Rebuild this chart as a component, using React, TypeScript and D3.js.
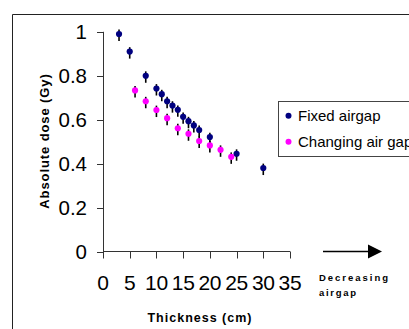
import React from "react";
import * as d3 from "d3";

const fixedX = [3, 5, 8, 10, 11, 12, 13, 14, 15, 16, 17, 18, 20, 25, 30];
const fixedY = [0.99, 0.91, 0.80, 0.742, 0.716, 0.684, 0.664, 0.645, 0.613, 0.593, 0.574, 0.553, 0.521, 0.445, 0.38];
const changeX = [6, 8, 10, 12, 14, 16, 18, 20, 22, 24];
const changeY = [0.733, 0.684, 0.644, 0.607, 0.561, 0.536, 0.503, 0.483, 0.463, 0.431];
const errUp = 0.02;
const errDown = 0.032;
const xTicks = [0, 5, 10, 15, 20, 25, 30, 35];
const yTicks = [0, 0.2, 0.4, 0.6, 0.8, 1];
const seriesNames = ["Fixed airgap", "Changing air gap"];
const seriesColors = ["#000080", "#FF00FF"];

const W = 409;
const H = 329;

export default function App() {
  const x = d3.scaleLinear().domain([0, 35]).range([103, 290]);
  const y = d3.scaleLinear().domain([0, 1]).range([251.5, 31.8]);
  const font = "'Liberation Sans', Arial, sans-serif";
  const series = [
    { xs: fixedX, ys: fixedY, color: seriesColors[0] },
    { xs: changeX, ys: changeY, color: seriesColors[1] },
  ];
  return (
    <svg
      width={W}
      height={H}
      style={{ position: "fixed", left: 0, top: 0, background: "#fff" }}
      fontFamily={font}
    >
      <rect x={0} y={0} width={W} height={H} fill="#fff" />
      {/* outer frame */}
      <line x1={12.5} y1={14.5} x2={W} y2={14.5} stroke="#222" strokeWidth={1} />
      <line x1={12.5} y1={14.5} x2={12.5} y2={H} stroke="#222" strokeWidth={1} />

      {/* y axis */}
      <line x1={103.5} x2={103.5} y1={y(1)} y2={y(0)} stroke="#333" />
      {yTicks.map((t) => (
        <g key={"y" + t}>
          <line x1={97} x2={103.5} y1={Math.round(y(t)) + 0.5} y2={Math.round(y(t)) + 0.5} stroke="#333" />
          <text x={87} y={y(t)} dy="0.36em" textAnchor="end" fontSize={20.5} fill="#000">
            {d3.format("~g")(t)}
          </text>
        </g>
      ))}
      {/* x axis */}
      <line x1={x(0)} x2={x(35)} y1={251.5} y2={251.5} stroke="#333" />
      {xTicks.map((t) => (
        <g key={"x" + t}>
          <line x1={Math.round(x(t)) + 0.5} x2={Math.round(x(t)) + 0.5} y1={251.5} y2={258.5} stroke="#333" />
          <text x={x(t)} y={290} textAnchor="middle" fontSize={21} letterSpacing={-0.3} fill="#000">
            {t}
          </text>
        </g>
      ))}

      {/* data */}
      {series.map((s, si) => (
        <g key={"s" + si}>
          {s.xs.map((xv, i) => (
            <line
              key={"e" + i}
              x1={x(xv)}
              x2={x(xv)}
              y1={y(s.ys[i] + errUp)}
              y2={y(s.ys[i] - errDown)}
              stroke="#000"
              strokeWidth={1.6}
            />
          ))}
          {s.xs.map((xv, i) => (
            <circle key={"c" + i} cx={x(xv)} cy={y(s.ys[i])} r={3.1} fill={s.color} />
          ))}
        </g>
      ))}

      {/* axis titles */}
      <text
        transform="translate(49,141) rotate(-90)"
        textAnchor="middle"
        fontSize={13}
        fontWeight="bold"
        letterSpacing={0.9}
        fill="#000"
      >
        Absolute dose (Gy)
      </text>
      <text x={200} y={322} textAnchor="middle" fontSize={12.5} fontWeight="bold" letterSpacing={1} fill="#000">
        Thickness (cm)
      </text>

      {/* arrow */}
      <line x1={323} x2={370} y1={251.5} y2={251.5} stroke="#000" strokeWidth={1.5} />
      <path d="M368,244.5 L382,251.5 L368,258.5 Z" fill="#000" />
      <text x={319} y={281} fontSize={9.5} fontWeight="bold" textLength={69} lengthAdjust="spacing" fill="#000">
        Decreasing
      </text>
      <text x={319} y={295.5} fontSize={9.5} fontWeight="bold" textLength={37} lengthAdjust="spacing" fill="#000">
        airgap
      </text>

      {/* legend */}
      <rect x={278.5} y={101.5} width={200} height={55} fill="#fff" stroke="#444" />
      {seriesNames.map((n, i) => (
        <g key={"l" + i}>
          <circle cx={288.5} cy={115.7 + i * 26} r={3} fill={seriesColors[i]} />
          <text x={298} y={121 + i * 26} fontSize={15} fill="#000">
            {n}
          </text>
        </g>
      ))}
    </svg>
  );
}
